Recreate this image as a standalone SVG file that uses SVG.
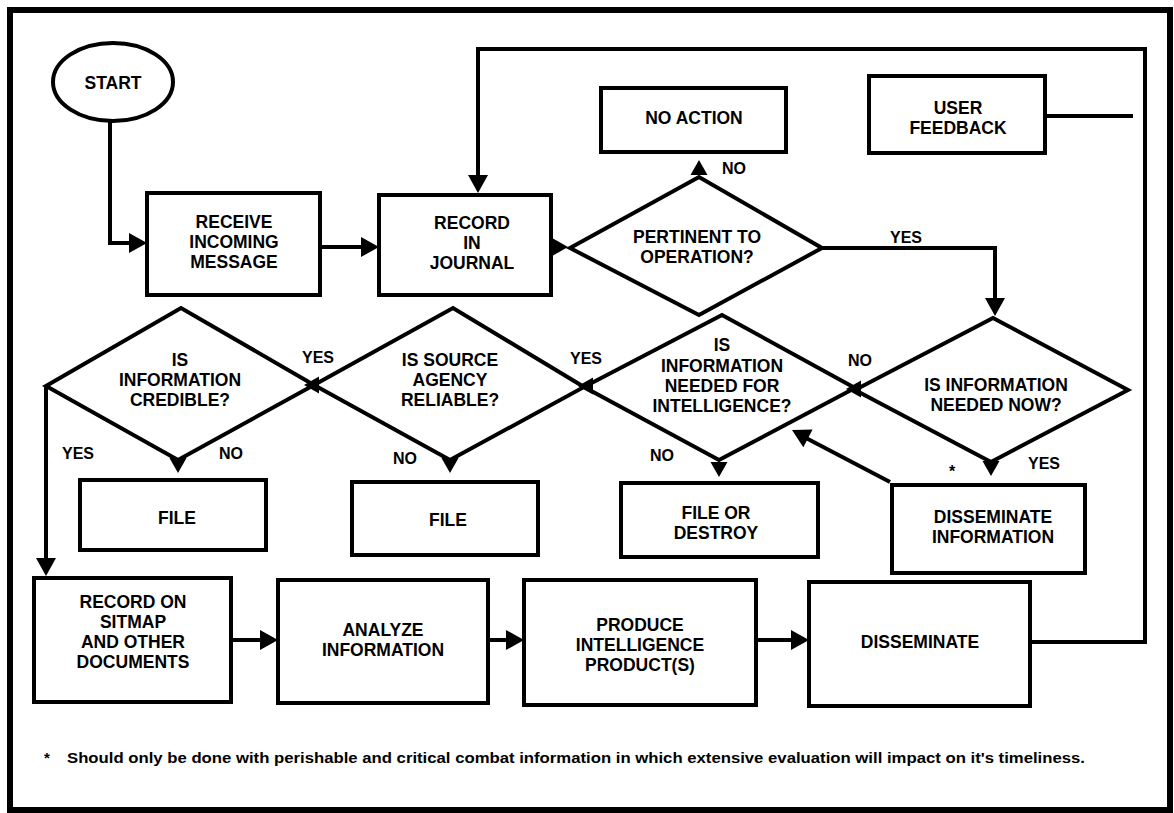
<svg xmlns="http://www.w3.org/2000/svg" xmlns:xlink="http://www.w3.org/1999/xlink" width="1174" height="813" viewBox="0 0 1174 813">
<style>
  .box { fill: #fff; stroke: #000; stroke-width: 4; }
  .dia { fill: none; stroke: #000; stroke-width: 4; stroke-linejoin: miter; }
  .ln { fill: none; stroke: #000; stroke-width: 4; }
  .t { font-family: "Liberation Sans", Arial, Helvetica, sans-serif; font-weight: bold; font-size: 17.5px; fill: #000; text-anchor: middle; }
  .lbl { font-family: "Liberation Sans", Arial, Helvetica, sans-serif; font-weight: bold; font-size: 16px; fill: #000; text-anchor: middle; }
  .note { font-family: "Liberation Sans", Arial, Helvetica, sans-serif; font-weight: bold; font-size: 15px; fill: #000; }
</style>
<defs>
  <path id="ah" d="M0,0 L-18,-10 L-18,10 Z" fill="#000"/>
  <path id="ahs" d="M0,0 L-15,-8.5 L-15,8.5 Z" fill="#000"/>
</defs>
<rect x="0" y="0" width="1174" height="813" fill="#fff"/>
<rect x="10" y="10" width="1160" height="800" fill="none" stroke="#000" stroke-width="6"/>

<g id="connectors">
  <path class="ln" d="M110,122 V243 H132"/>
  <use xlink:href="#ah" transform="translate(147,243)"/>
  <path class="ln" d="M320,247 H362"/>
  <use xlink:href="#ah" transform="translate(379,247)"/>
  <use xlink:href="#ahs" transform="translate(568,247)"/>
  <path class="ln" d="M1030,642 H1145 V49 H478 V176"/>
  <use xlink:href="#ah" transform="translate(478,193) rotate(90)"/>
  <path class="ln" d="M1045,116 H1133"/>
  <use xlink:href="#ahs" transform="translate(699,160) rotate(-90)"/>
  <path class="ln" d="M822,248 H995 V300"/>
  <use xlink:href="#ah" transform="translate(995,316) rotate(90)"/>
  <use xlink:href="#ahs" transform="translate(846,389) rotate(180)"/>
  <use xlink:href="#ahs" transform="translate(578,386) rotate(180)"/>
  <use xlink:href="#ahs" transform="translate(304,385) rotate(180)"/>
  <path class="ln" d="M46,386 V560"/>
  <use xlink:href="#ah" transform="translate(46,576) rotate(90)"/>
  <use xlink:href="#ahs" transform="translate(178,473) rotate(90)"/>
  <use xlink:href="#ahs" transform="translate(450,473) rotate(90)"/>
  <use xlink:href="#ahs" transform="translate(719,477) rotate(90)"/>
  <use xlink:href="#ahs" transform="translate(991,476) rotate(90)"/>
  <path class="ln" d="M890,482 L806,438"/>
  <use xlink:href="#ah" transform="translate(792,430) rotate(207.6)"/>
  <path class="ln" d="M231,640 H262" stroke-width="5"/>
  <use xlink:href="#ah" transform="translate(278,640)"/>
  <path class="ln" d="M488,640 H508" stroke-width="5"/>
  <use xlink:href="#ah" transform="translate(524,640)"/>
  <path class="ln" d="M756,640 H793" stroke-width="5"/>
  <use xlink:href="#ah" transform="translate(809,640)"/>
</g>

<g id="start">
  <ellipse cx="113" cy="82" rx="60" ry="39" fill="#fff" stroke="#000" stroke-width="4"/>
  <text class="t" x="113" y="89">START</text>
</g>
<g id="receive">
  <rect class="box" x="147" y="193" width="173" height="102"/>
  <text class="t" x="234" y="228">RECEIVE</text>
  <text class="t" x="234" y="248">INCOMING</text>
  <text class="t" x="234" y="268">MESSAGE</text>
</g>
<g id="record-journal">
  <rect class="box" x="379" y="195" width="172" height="100"/>
  <text class="t" x="472" y="229">RECORD</text>
  <text class="t" x="472" y="249">IN</text>
  <text class="t" x="472" y="269">JOURNAL</text>
</g>
<g id="no-action">
  <rect class="box" x="601" y="88" width="185" height="64"/>
  <text class="t" x="694" y="124">NO ACTION</text>
</g>
<g id="user-feedback">
  <rect class="box" x="869" y="76" width="176" height="77"/>
  <text class="t" x="958" y="114">USER</text>
  <text class="t" x="958" y="134">FEEDBACK</text>
</g>
<g id="pertinent">
  <polygon class="dia" points="570,248 699,177 822,248 699,315"/>
  <text class="t" x="697" y="243">PERTINENT TO</text>
  <text class="t" x="697" y="263">OPERATION?</text>
  <text class="lbl" x="734" y="174">NO</text>
  <text class="lbl" x="906" y="243">YES</text>
</g>
<g id="needed-now">
  <polygon class="dia" points="855,390 993,318 1128,390 991,462"/>
  <text class="t" x="996" y="391">IS INFORMATION</text>
  <text class="t" x="996" y="411">NEEDED NOW?</text>
  <text class="lbl" x="860" y="366">NO</text>
  <text class="lbl" x="1044" y="469">YES</text>
  <text class="lbl" x="952" y="477">*</text>
</g>
<g id="needed-intel">
  <polygon class="dia" points="584,387 722,315 855,388 719,460"/>
  <text class="t" x="722" y="351">IS</text>
  <text class="t" x="722" y="372">INFORMATION</text>
  <text class="t" x="722" y="392">NEEDED FOR</text>
  <text class="t" x="722" y="412">INTELLIGENCE?</text>
  <text class="lbl" x="586" y="364">YES</text>
  <text class="lbl" x="662" y="461">NO</text>
</g>
<g id="source-reliable">
  <polygon class="dia" points="314,385 453,308 584,387 450,460"/>
  <text class="t" x="450" y="366">IS SOURCE</text>
  <text class="t" x="450" y="386">AGENCY</text>
  <text class="t" x="450" y="406">RELIABLE?</text>
  <text class="lbl" x="318" y="363">YES</text>
  <text class="lbl" x="405" y="464">NO</text>
</g>
<g id="credible">
  <polygon class="dia" points="46,386 181,308 314,385 178,460"/>
  <text class="t" x="180" y="366">IS</text>
  <text class="t" x="180" y="386">INFORMATION</text>
  <text class="t" x="180" y="406">CREDIBLE?</text>
  <text class="lbl" x="78" y="459">YES</text>
  <text class="lbl" x="231" y="459">NO</text>
</g>
<g id="file1">
  <rect class="box" x="80" y="480" width="186" height="70"/>
  <text class="t" x="177" y="524">FILE</text>
</g>
<g id="file2">
  <rect class="box" x="352" y="482" width="186" height="73"/>
  <text class="t" x="448" y="526">FILE</text>
</g>
<g id="file-destroy">
  <rect class="box" x="621" y="483" width="197" height="74"/>
  <text class="t" x="716" y="519">FILE OR</text>
  <text class="t" x="716" y="539">DESTROY</text>
</g>
<g id="disseminate-info">
  <rect class="box" x="892" y="485" width="193" height="88"/>
  <text class="t" x="993" y="523">DISSEMINATE</text>
  <text class="t" x="993" y="543">INFORMATION</text>
</g>
<g id="record-sitmap">
  <rect class="box" x="34" y="578" width="197" height="124"/>
  <text class="t" x="133" y="608">RECORD ON</text>
  <text class="t" x="133" y="628">SITMAP</text>
  <text class="t" x="133" y="648">AND OTHER</text>
  <text class="t" x="133" y="668">DOCUMENTS</text>
</g>
<g id="analyze">
  <rect class="box" x="278" y="580" width="210" height="123"/>
  <text class="t" x="383" y="636">ANALYZE</text>
  <text class="t" x="383" y="656">INFORMATION</text>
</g>
<g id="produce">
  <rect class="box" x="524" y="580" width="232" height="125"/>
  <text class="t" x="640" y="631">PRODUCE</text>
  <text class="t" x="640" y="651">INTELLIGENCE</text>
  <text class="t" x="640" y="671">PRODUCT(S)</text>
</g>
<g id="disseminate">
  <rect class="box" x="809" y="582" width="221" height="124"/>
  <text class="t" x="920" y="648">DISSEMINATE</text>
</g>
<g id="footnote">
  <text class="note" x="44" y="763">*</text>
  <text class="note" x="67" y="763" textLength="1018" lengthAdjust="spacingAndGlyphs">Should only be done with perishable and critical combat information in which extensive evaluation will impact on it's timeliness.</text>
</g>
</svg>
